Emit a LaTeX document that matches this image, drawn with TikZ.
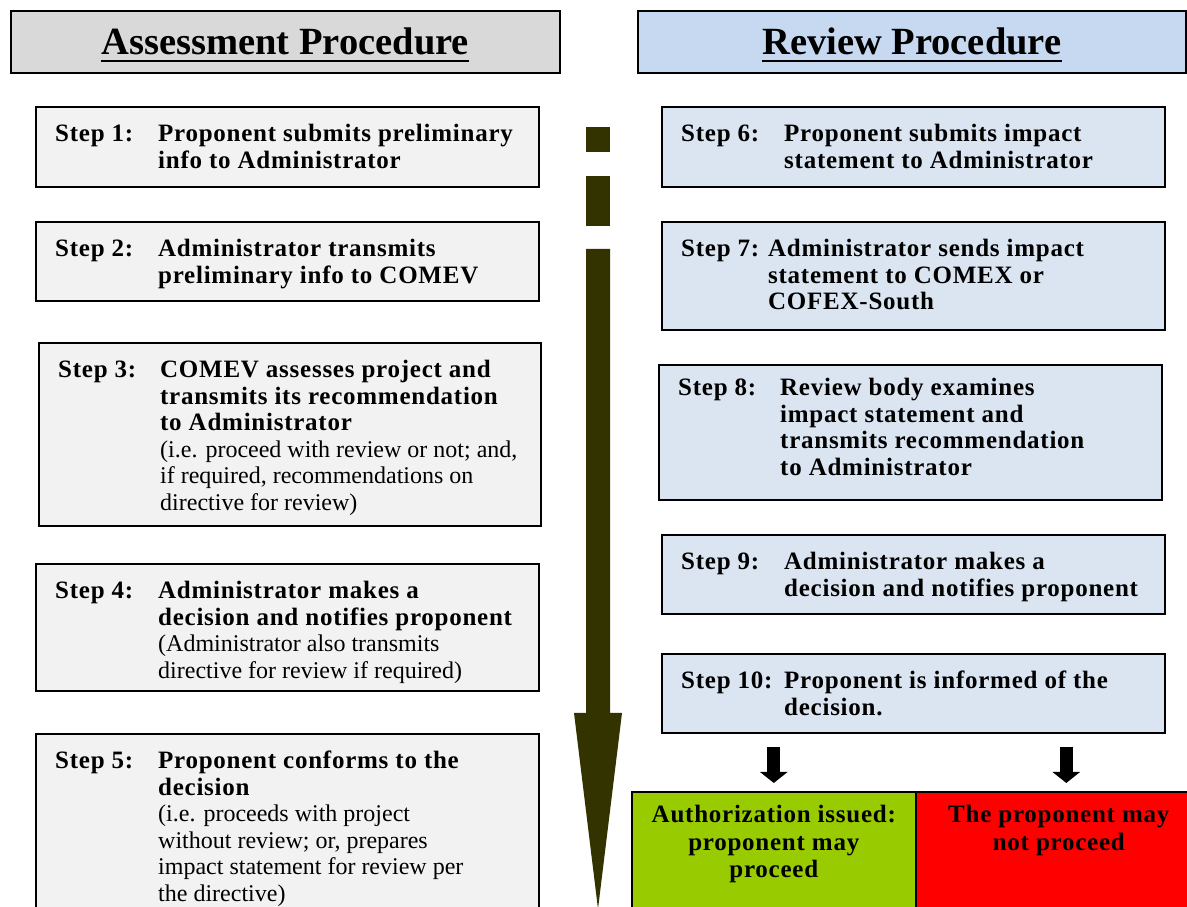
\documentclass[tikz,border=0pt]{standalone}
\usepackage{fontspec}
\setmainfont{Liberation Serif}
\newfontfamily\wideserif{Liberation Serif}[LetterSpace=3]
\usetikzlibrary{positioning,arrows.meta,calc}

\definecolor{hdrgray}{HTML}{D9D9D9}
\definecolor{hdrblue}{HTML}{C6D9F1}
\definecolor{stepgray}{HTML}{F2F2F2}
\definecolor{stepblue}{HTML}{DBE5F1}
\definecolor{timeline}{HTML}{333300}
\definecolor{okgreen}{HTML}{99CC00}
\definecolor{nored}{HTML}{FF0000}

\newcommand{\bld}[1]{{\wideserif\bfseries\fontsize{25}{26.5}\selectfont #1}}
\newcommand{\steptext}[3][103pt]{\makebox[#1][l]{\bld{#2}}\parbox[t]{370pt}{\raggedright #3}}

\tikzset{
  box/.style={draw, line width=1.6pt, anchor=north west, inner sep=0pt},
  hdrbox/.style={box, minimum width=549pt, minimum height=62pt},
  hdrtxt/.style={inner sep=0pt, font=\bfseries\fontsize{38.5}{42}\selectfont},
  hdrline/.style={line width=2.4pt},
  stepbox/.style={box, minimum width=503pt},
  steptxt/.style={inner sep=0pt, font=\fontsize{24}{26.5}\selectfont},
  outtxt/.style={inner sep=0pt, align=center,
    font=\wideserif\bfseries\fontsize{25}{27.5}\selectfont},
  fatarrow/.style={line width=13pt, -{Triangle[width=27pt,length=11pt]}},
}

\begin{document}
\begin{tikzpicture}[x=1pt,y=1pt]
	\useasboundingbox (0,0) rectangle (1187,907);
	\clip (0,0) rectangle (1187,907);
	
	% headings
	\node[hdrbox, fill=hdrgray] (assess) at (10,897) {};
	\node[hdrbox, fill=hdrblue, minimum width=548pt] (review) at (637,897) {};
	\node[hdrtxt] (assesst) at (assess.center) {Assessment Procedure};
	\node[hdrtxt] (reviewt) at (review.center) {Review Procedure};
	\draw[hdrline] ([yshift=-6pt]assesst.base west) -- ([yshift=-6pt]assesst.base east);
	\draw[hdrline] ([yshift=-6pt]reviewt.base west) -- ([yshift=-6pt]reviewt.base east);
	
	% timeline
	\fill[timeline] (586,780) rectangle (610,755);
	\fill[timeline] (586,731) rectangle (610,681);
	\fill[timeline] (586,658) -- (610,658) -- (610,194) -- (622,194) -- (598,-2)
		-- (574,194) -- (586,194) -- cycle;
	
	% assessment steps
	\node[stepbox, fill=stepgray, minimum height=80pt] (s1) at (35,801) {};
	\node[stepbox, fill=stepgray, minimum height=79pt] (s2) at (35,686) {};
	\node[stepbox, fill=stepgray, minimum height=183pt, minimum width=502pt] (s3) at (38,565) {};
	\node[stepbox, fill=stepgray, minimum height=127pt] (s4) at (35,344) {};
	\node[stepbox, fill=stepgray, minimum height=200pt] (s5) at (35,174) {};
	
	\node[steptxt, below right=18pt and 20pt of s1.north west]
		{\steptext{Step 1:}{\bld{Proponent submits preliminary\\info to Administrator}}};
	\node[steptxt, below right=18pt and 20pt of s2.north west]
		{\steptext{Step 2:}{\bld{Administrator transmits\\preliminary info to COMEV}}};
	\node[steptxt, below right=18pt and 20pt of s3.north west]
		{\steptext[102pt]{Step 3:}{\bld{COMEV assesses project and\\transmits its recommendation\\to Administrator}\\
		(i.e. proceed with review or not; and,\\if required, recommendations on\\directive for review)}};
	\node[steptxt, below right=18pt and 20pt of s4.north west]
		{\steptext{Step 4:}{\bld{Administrator makes a\\decision and notifies proponent}\\
		(Administrator also transmits\\directive for review if required)}};
	\node[steptxt, below right=18pt and 20pt of s5.north west]
		{\steptext{Step 5:}{\bld{Proponent conforms to the\\decision}\\
		(i.e. proceeds with project\\without review; or, prepares\\impact statement for review per\\the directive)}};
	
	% review steps
	\node[stepbox, fill=stepblue, minimum height=80pt] (s6) at (661,801) {};
	\node[stepbox, fill=stepblue, minimum height=108pt] (s7) at (661,686) {};
	\node[stepbox, fill=stepblue, minimum height=135pt] (s8) at (658,543) {};
	\node[stepbox, fill=stepblue, minimum height=79pt] (s9) at (661,373) {};
	\node[stepbox, fill=stepblue, minimum height=79pt] (s10) at (661,254) {};
	
	\node[steptxt, below right=18pt and 20pt of s6.north west]
		{\steptext{Step 6:}{\bld{Proponent submits impact\\statement to Administrator}}};
	\node[steptxt, below right=18pt and 20pt of s7.north west]
		{\steptext[87pt]{Step 7:}{\bld{Administrator sends impact\\statement to COMEX or\\COFEX-South}}};
	\node[steptxt, below right=14pt and 20pt of s8.north west]
		{\steptext[102pt]{Step 8:}{\bld{Review body examines\\impact statement and\\transmits recommendation\\to Administrator}}};
	\node[steptxt, below right=18pt and 20pt of s9.north west]
		{\steptext{Step 9:}{\bld{Administrator makes a\\decision and notifies proponent}}};
	\node[steptxt, below right=18pt and 20pt of s10.north west]
		{\steptext{Step 10:}{\bld{Proponent is informed of the\\decision.}}};
	
	% outcomes
	\node[box, fill=okgreen, minimum width=284pt, minimum height=150pt] (ok) at (631,116) {};
	\node[box, fill=nored, minimum width=301pt, minimum height=150pt] (no) at (915,116) {};
	\node[outtxt, below=14pt of ok.north] {Authorization issued:\\proponent may\\proceed};
	\node[outtxt, below=14pt of no.north, xshift=-7.5pt] {The proponent may\\not proceed};
	
	\draw[fatarrow] ($(s10.south -| ok.north)+(0,-13)$) -- ([yshift=8pt]ok.north);
	\draw[fatarrow] ($(s10.south -| no.north)+(0,-13)$) -- ([yshift=8pt]no.north);
\end{tikzpicture}
\end{document}
